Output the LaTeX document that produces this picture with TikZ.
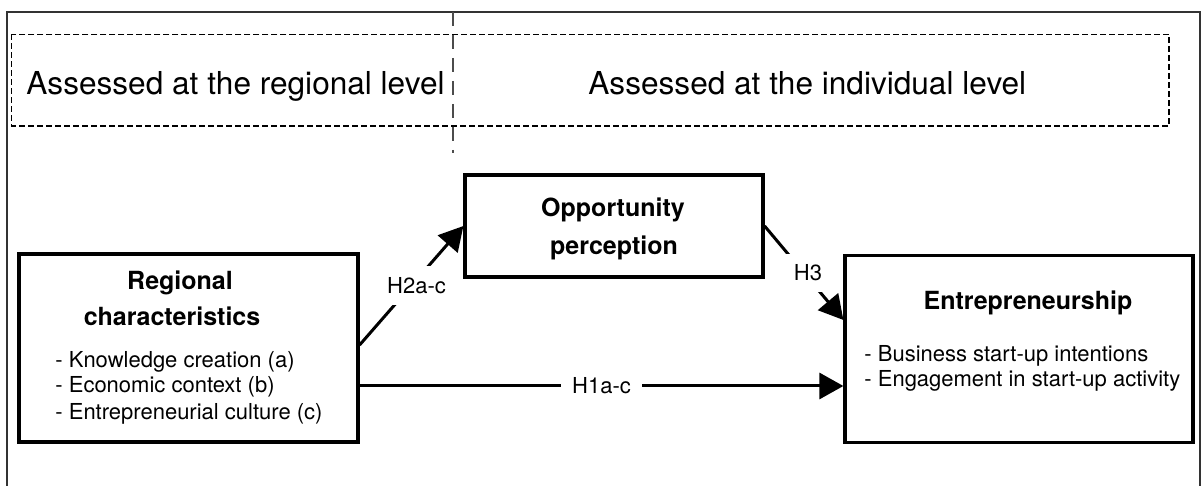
\documentclass[tikz,border=0pt]{standalone}
\usepackage{fontspec}
\setmainfont{TeX Gyre Heros}
\usetikzlibrary{arrows.meta}

\begin{document}
\begin{tikzpicture}[x=0.5pt, y=-0.5pt,
    block/.style={draw, line width=1.6pt, inner sep=0pt},
    title/.style={font=\bfseries\fontsize{12.5}{15}\selectfont, anchor=base, inner sep=0pt},
    item/.style={font=\fontsize{11}{13}\selectfont, anchor=base west, inner sep=0pt},
    level/.style={font=\fontsize{15.8}{18}\selectfont, anchor=base west, inner sep=0pt},
    hyp/.style={font=\fontsize{11}{13}\selectfont, fill=white, inner sep=5.5pt},
    link/.style={line width=1.5pt, -{Triangle[length=12pt, width=13pt]}}]
    \useasboundingbox (0,0) rectangle (1201,486);
    \draw [black!80, line width=1pt] (7,500) -- (7,12) -- (1200,12) -- (1200,500);
    \draw [dash pattern=on 3pt off 1.5pt, line width=0.85pt] (11.5,34.5) rectangle (1169,126);
    \draw [black!70, line width=1.3pt, dash pattern=on 7pt off 4.5pt] (453,12) -- (453,153);
    \node [level] (regionallevel) at (26,95) {Assessed at the regional level};
    \node [level] (individuallevel) at (588,95) {Assessed at the individual level};

    \node [block, minimum width=169.5pt, minimum height=94pt] (regional) at (188.5,348) {};
    \node [title] at (180,290) {Regional};
    \node [title] at (172,326) {characteristics};
    \node [item] at (55,368) {- Knowledge creation (a)};
    \node [item] at (55,393) {- Economic context (b)};
    \node [item] at (55,420) {- Entrepreneurial culture (c)};

    \node [block, minimum width=149pt, minimum height=51pt] (opportunity) at (614,226) {};
    \node [title] at (613,217) {Opportunity};
    \node [title] at (614,255) {perception};

    \node [block, minimum width=174pt, minimum height=93.5pt] (entrepreneurship) at (1019,349) {};
    \node [title] at (1028,310) {Entrepreneurship};
    \node [item] at (864,362) {- Business start-up intentions};
    \node [item] at (864,387) {- Engagement in start-up activity};

    \coordinate (h1start) at ([yshift=-19pt]regional.east);
    \draw [link] ([yshift=1.5pt]regional.east) -- (opportunity.west) node [hyp, midway, xshift=2.5pt] {H2a-c};
    \draw [link] (opportunity.east) -- ([yshift=14.5pt]entrepreneurship.west) node [hyp, midway, xshift=2pt] {H3};
    \draw [link] (h1start) -- (h1start -| entrepreneurship.west) node [hyp, midway] {H1a-c};
\end{tikzpicture}
\end{document}
